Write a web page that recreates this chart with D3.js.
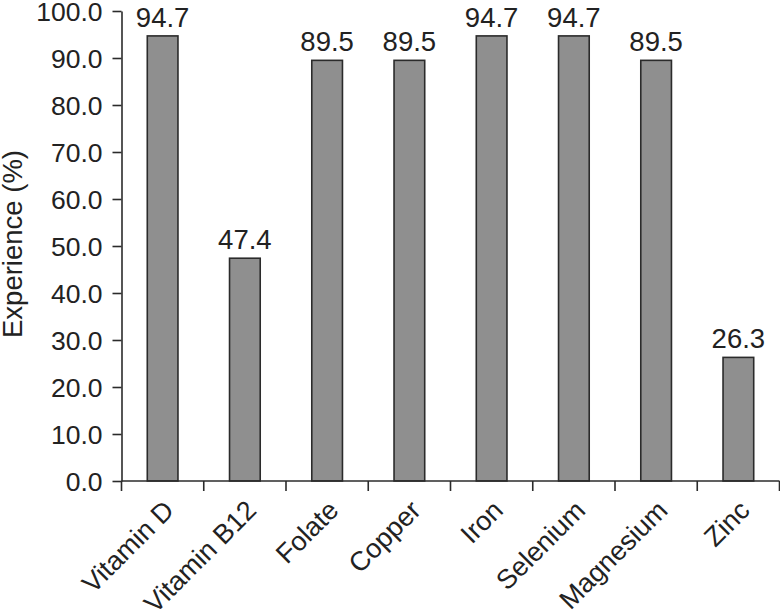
<!DOCTYPE html>
<html>
<head>
<meta charset="utf-8">
<script src="https://cdn.jsdelivr.net/npm/d3@7"></script>
<style>
  html, body { margin: 0; padding: 0; background: #fff; }
  svg { display: block; }
  text { font-family: "Liberation Sans", Arial, Helvetica, sans-serif; fill: #222; }
</style>
</head>
<body>
<svg id="chart" width="780" height="615"></svg>
<script>
const categories = ["Vitamin D", "Vitamin B12", "Folate", "Copper", "Iron", "Selenium", "Magnesium", "Zinc"];
const values = [94.7, 47.4, 89.5, 89.5, 94.7, 94.7, 89.5, 26.3];
const yTicks = [0, 10, 20, 30, 40, 50, 60, 70, 80, 90, 100];
const yTitle = "Experience (%)";

(function () {
const svg = d3.select("#chart");
const mLeft = 121.5, mRight = 779.5, mTop = 11, mBottom = 481;

const x = d3.scaleBand().domain(categories).range([mLeft, mRight])
  .paddingInner(0.627).paddingOuter(0.3135);
const y = d3.scaleLinear().domain([0, 100]).range([mBottom, mTop]);
const step = x.step();
const offset = (step - x.bandwidth()) / 2;

// bars
svg.append("g").selectAll("rect").data(categories).join("rect")
  .attr("x", d => x(d))
  .attr("y", (d, i) => y(values[i]))
  .attr("width", x.bandwidth())
  .attr("height", (d, i) => y(0) - y(values[i]))
  .attr("fill", "#8f8f8f")
  .attr("stroke", "#2b2b2b")
  .attr("stroke-width", 1.6);

// value labels
svg.append("g").selectAll("text").data(categories).join("text")
  .attr("x", d => x(d) + x.bandwidth() / 2)
  .attr("y", (d, i) => y(values[i]) - 9)
  .attr("text-anchor", "middle")
  .attr("font-size", 27.5)
  .text((d, i) => values[i].toFixed(1));

// y axis
const yAxis = svg.append("g").attr("transform", `translate(${mLeft},0)`)
  .call(d3.axisLeft(y).tickValues(yTicks).tickFormat(d3.format(".1f")).tickSize(9).tickSizeOuter(0).tickPadding(10));
yAxis.selectAll("text").attr("font-size", 26.5).attr("dy", "0.36em")
  .style("font-family", '"Liberation Sans", Arial, sans-serif').attr("fill", "#222");
yAxis.selectAll("line, path").attr("stroke", "#2b2b2b").attr("stroke-width", 1.6);

// x axis baseline and boundary ticks
const xg = svg.append("g");
xg.append("line").attr("x1", mLeft).attr("x2", mRight).attr("y1", y(0)).attr("y2", y(0))
  .attr("stroke", "#2b2b2b").attr("stroke-width", 1.6);
const bounds = categories.map(c => x(c) - offset).concat([x(categories[categories.length - 1]) - offset + step]);
xg.selectAll("line.tk").data(bounds).join("line").attr("class", "tk")
  .attr("x1", d => d).attr("x2", d => d)
  .attr("y1", y(0)).attr("y2", y(0) + 10)
  .attr("stroke", "#2b2b2b").attr("stroke-width", 1.6);

// x labels rotated
xg.selectAll("text").data(categories).join("text")
  .attr("transform", d => `translate(${x(d) + x.bandwidth() / 2 + 13},${y(0) + 31}) rotate(-45)`)
  .attr("text-anchor", "end")
  .attr("font-size", 27)
  .text(d => d);

// y title
svg.append("text")
  .attr("transform", `translate(22,244) rotate(-90)`)
  .attr("text-anchor", "middle")
  .attr("font-size", 27.5)
  .text(yTitle);
})();
</script>
</body>
</html>
